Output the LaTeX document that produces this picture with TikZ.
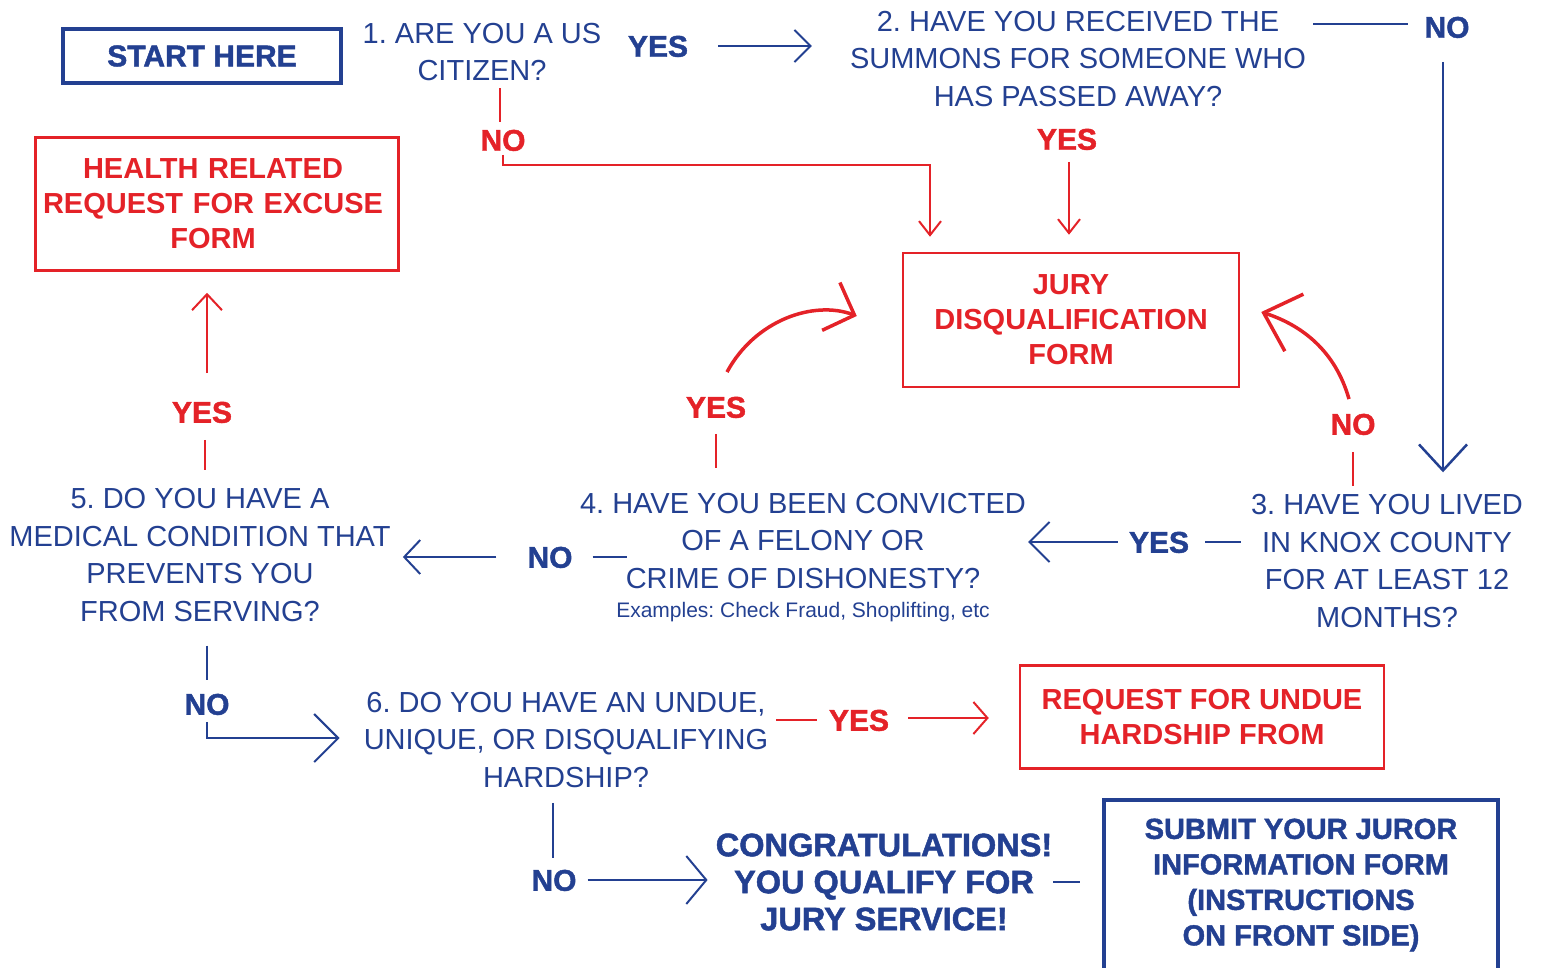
\documentclass[tikz,border=0pt]{standalone}
\usepackage{fontspec}
\setmainfont{Liberation Sans}
\newfontfamily\heavyfont{Liberation Sans}[BoldFeatures={FakeBold=1.5}]
\usetikzlibrary{positioning,arrows.meta}
\definecolor{qblue}{RGB}{35,64,145}
\definecolor{qred}{RGB}{228,34,40}
\frenchspacing

\begin{document}
\begin{tikzpicture}[x=1pt,y=-1pt,
	q/.style={align=center,inner sep=0pt,text=qblue,font=\fontsize{29}{37.5}\selectfont},
	lab/.style={inner sep=0pt,text height=21.5pt,text depth=0pt,font=\heavyfont\bfseries\fontsize{30}{30}\selectfont},
	blab/.style={lab,text=qblue},
	rlab/.style={lab,text=qred},
	rbox/.style={draw=qred,line width=2.5pt,align=center,text=qred,font=\bfseries\fontsize{29}{35}\selectfont},
	bbox/.style={draw=qblue,line width=4.5pt,align=center,text=qblue,font=\heavyfont\bfseries\fontsize{29}{35.5}\selectfont},
	bl/.style={draw=qblue,line width=2pt},
	rl/.style={draw=qred,line width=2pt},
	head/.style 2 args={-{Straight Barb[length=#1pt,width=#2pt]}}]
	\useasboundingbox (0,0) rectangle (1541,968);

	% Questions
	\node[bbox,minimum width=278,minimum height=54,font=\heavyfont\bfseries\fontsize{30}{30}\selectfont] (start) at (202,56) {START HERE};
	\node[q] (q1) at (482,52) {1. ARE YOU A US\\CITIZEN?};
	\node[q] (q2) at (1078,59) {2. HAVE YOU RECEIVED THE\\SUMMONS FOR SOMEONE WHO\\HAS PASSED AWAY?};
	\node[q] (q3) at (1387,561) {3. HAVE YOU LIVED\\IN KNOX COUNTY\\FOR AT LEAST 12\\MONTHS?};
	\node[q] (q4) at (803,541) {4. HAVE YOU BEEN CONVICTED\\OF A FELONY OR\\CRIME OF DISHONESTY?};
	\node[q,font=\fontsize{21}{24}\selectfont,below=13pt of q4] (q4note) {Examples: Check Fraud, Shoplifting, etc};
	\node[q] (q5) at (200,555) {5. DO YOU HAVE A\\MEDICAL CONDITION THAT\\PREVENTS YOU\\FROM SERVING?};
	\node[q] (q6) at (566,740) {6. DO YOU HAVE AN UNDUE,\\UNIQUE, OR DISQUALIFYING\\HARDSHIP?};
	\node[q,font=\heavyfont\bfseries\fontsize{32.5}{37}\selectfont] (congrats) at (884,882) {CONGRATULATIONS!\\YOU QUALIFY FOR\\JURY SERVICE!};

	% Forms
	\node[rbox,minimum width=336,minimum height=134] (jury) at (1071,320) {JURY\\DISQUALIFICATION\\FORM};
	\node[rbox,minimum width=363,minimum height=133,text width=355] (health) at (217,204) {\hspace*{-8pt}HEALTH RELATED\\\hspace*{-8pt}REQUEST FOR EXCUSE\\\hspace*{-8pt}FORM};
	\node[rbox,minimum width=364,minimum height=103] (undue) at (1202,717) {REQUEST FOR UNDUE\\HARDSHIP FROM};
	\node[bbox,minimum width=394,minimum height=170] (submit) at (1301,885) {SUBMIT YOUR JUROR\\INFORMATION FORM\\(INSTRUCTIONS\\ON FRONT SIDE)};

	% Answers
	\node[blab] (y1) at (658,46) {YES};
	\node[blab] (n2) at (1447,27) {NO};
	\node[rlab] (n1) at (503,140) {NO};
	\node[rlab] (y2) at (1067,139) {YES};
	\node[rlab] (y4) at (716,407) {YES};
	\node[rlab] (n3) at (1353,424) {NO};
	\node[blab] (y3) at (1159,542) {YES};
	\node[blab] (n4) at (550,557) {NO};
	\node[rlab] (y5) at (202,412) {YES};
	\node[blab] (n5) at (207,704) {NO};
	\node[rlab] (y6) at (859,720) {YES};
	\node[blab] (n6) at (554,880) {NO};

	% Connectors
	\draw[bl,head={16}{32}] ([xshift=30]y1.east) -- ([xshift=-38]y1.east -| q2.west);
	\draw[bl] ([xshift=7,yshift=3]q2.east |- n2.west) -- ([xshift=-16,yshift=3]n2.west);
	\draw[bl,line width=2.5pt,head={26}{48}] ([xshift=-4,yshift=-24]n2.south) -- ([xshift=-4,yshift=22]n2.south |- q3.north);
	\draw[rl] ([xshift=-3,yshift=-7]n1.north |- q1.south) -- ([xshift=-3,yshift=7]n1.north);
	\draw[rl,head={14}{22}] ([yshift=-4]n1.south) |- ([xshift=-141,yshift=87]jury.north) -- ([xshift=-141,yshift=15]jury.north);
	\draw[rl,head={14}{22}] ([xshift=2,yshift=-12]y2.south) -- ([xshift=2,yshift=17]y2.south |- jury.north);
	\draw[rl] ([yshift=-17]n3.south) -- ([yshift=8]n3.south |- q3.north);
	\draw[rl,line width=3.5pt,head={32}{60}] ([xshift=-4,yshift=14]n3.north) .. controls +(-14,-49) and +(40,13) .. ([xshift=21,yshift=8]jury.east);
	\draw[rl,line width=3.5pt,head={25}{51}] ([xshift=11,yshift=24]y4.north) .. controls +(28,-52) and +(-43,-16) .. ([xshift=-45,yshift=4]jury.west);
	\draw[rl] ([yshift=-16]y4.south) -- ([yshift=25]y4.south |- q4.north);
	\draw[bl] ([xshift=16]y3.east) -- ([xshift=-10]q3.west |- y3.east);
	\draw[bl,head={20}{40}] ([xshift=-11]y3.west) -- ([xshift=2]q4.east |- y3.west);
	\draw[bl] ([xshift=20]n4.east) -- ([xshift=47]q4.west |- n4.east);
	\draw[bl,head={16}{34}] ([xshift=-31]n4.west) -- ([xshift=12]q5.east |- n4.west);
	\draw[rl] ([xshift=3,yshift=-17]y5.south) -- ([xshift=3,yshift=18]y5.south |- q5.north);
	\draw[rl,head={16}{30}] ([xshift=5,yshift=28]y5.north) -- ([xshift=5,yshift=-21]y5.north |- health.south);
	\draw[bl] ([yshift=-24]n5.south |- q5.south) -- ([yshift=13]n5.north);
	\draw[bl,head={24}{48}] ([yshift=-7]n5.south) |- ([xshift=-24,yshift=2]q6.west);
	\draw[rl] ([xshift=8]q6.east |- y6.west) -- ([xshift=-12]y6.west);
	\draw[rl,head={14}{32}] ([xshift=19,yshift=2]y6.east) -- ([xshift=-30,yshift=2]undue.west |- y6.east);
	\draw[bl] ([xshift=-1,yshift=-15]n6.north |- q6.south) -- ([xshift=-1,yshift=11]n6.north);
	\draw[bl,head={20}{48}] ([xshift=11]n6.east) -- ([xshift=-8]congrats.west |- n6.east);
	\draw[bl] ([xshift=1]congrats.east) -- ([xshift=-22]submit.west |- congrats.east);
\end{tikzpicture}
\end{document}
